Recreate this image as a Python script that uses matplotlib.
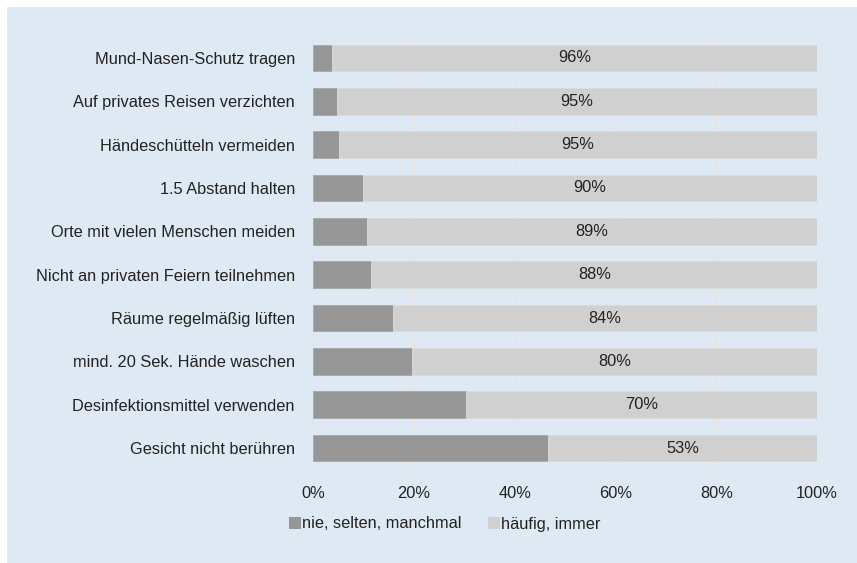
import matplotlib
matplotlib.use("Agg")
import matplotlib.pyplot as plt
from matplotlib.patches import Rectangle, Patch
from matplotlib.ticker import FuncFormatter

categories = [
    "Mund-Nasen-Schutz tragen",
    "Auf privates Reisen verzichten",
    "Händeschütteln vermeiden",
    "1.5 Abstand halten",
    "Orte mit vielen Menschen meiden",
    "Nicht an privaten Feiern teilnehmen",
    "Räume regelmäßig lüften",
    "mind. 20 Sek. Hände waschen",
    "Desinfektionsmittel verwenden",
    "Gesicht nicht berühren",
]
selten = [3.7, 4.7, 5.2, 9.9, 10.7, 11.6, 15.9, 19.6, 30.4, 46.7]
haeufig = [96.3, 95.3, 94.8, 90.1, 89.3, 88.4, 84.1, 80.4, 69.6, 53.3]
series_names = ["nie, selten, manchmal", "häufig, immer"]
xticks = [0, 20, 40, 60, 80, 100]

plt.rcParams['font.family'] = ['Liberation Sans', 'DejaVu Sans']
BG = "#dfe9f3"
DARK = "#969696"
LIGHT = "#d0d0d0"
TXT = "#222222"
FS = 11.8

fig = plt.figure(figsize=(8.57, 5.63), dpi=100)
fig.patch.set_facecolor(BG)
fig.patches.append(Rectangle((0, 1 - 7/563), 1, 7/563 + 0.01, transform=fig.transFigure,
                             facecolor="white", edgecolor="none", zorder=-10))
fig.patches.append(Rectangle((0, 0), 7/857, 1, transform=fig.transFigure,
                             facecolor="white", edgecolor="none", zorder=-10))

ax = fig.add_axes([313/857, 1 - 469.7/563, (817 - 313)/857, (469.7 - 36.3)/563])
ax.set_facecolor("none")

y = list(range(len(categories)))
ax.barh(y, selten, height=0.62, color=DARK, edgecolor="#a8a8a8", linewidth=0.6, zorder=3)
ax.barh(y, haeufig, left=selten, height=0.62, color=LIGHT, edgecolor="#dadada", linewidth=0.6, zorder=3)
for yi, s, h in zip(y, selten, haeufig):
    ax.text(s + h / 2, yi, f"{round(h)}%", ha="center", va="center", fontsize=FS, color=TXT, zorder=4)

ax.set_ylim(len(categories) - 0.5, -0.5)
ax.set_xlim(0, 100)
ax.set_yticks(y)
ax.set_yticklabels(categories, fontsize=FS, color=TXT)
ax.set_xticks(xticks)
ax.xaxis.set_major_formatter(FuncFormatter(lambda v, p: f"{int(v)}%"))
ax.tick_params(axis="x", labelsize=FS, colors=TXT, length=0, pad=12)
ax.tick_params(axis="y", length=0, pad=13)
for sp in ax.spines.values():
    sp.set_visible(False)
ax.grid(axis="x", color="#efe0d2", linestyle=(0, (4, 3)), linewidth=0.8, zorder=0)
ax.set_axisbelow(True)

handles = [Patch(facecolor=DARK, edgecolor="none"), Patch(facecolor=LIGHT, edgecolor="none")]
fig.legend(handles, series_names, loc="center", bbox_to_anchor=(445/857, 1 - 524/563), ncol=2,
           frameon=False, fontsize=FS, handlelength=0.7, handleheight=0.7, handletextpad=0.1,
           columnspacing=1.6, labelcolor=TXT)

fig.savefig("out.png", dpi=100, facecolor=fig.get_facecolor())
